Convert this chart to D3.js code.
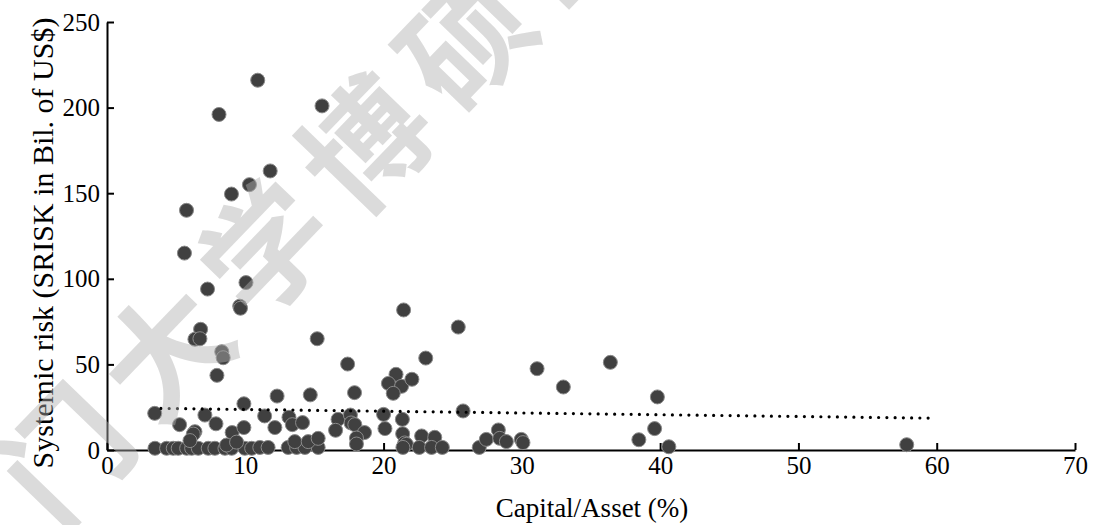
<!DOCTYPE html>
<html>
<head>
<meta charset="utf-8">
<script src="https://cdn.jsdelivr.net/npm/d3@7"></script>
<style>
  html, body { margin: 0; padding: 0; background: #ffffff; }
  svg { display: block; }
</style>
</head>
<body>
<svg id="chart" width="1094" height="525"></svg>
<script>
// Capital/Asset ratio (%) of each institution
const capitalRatio = [
  10.9, 8.1, 15.55, 11.8, 10.3, 9.0, 5.75, 5.6, 7.27, 10.05, 9.6, 9.65, 6.77, 6.36, 6.72, 15.2, 8.3, 8.4, 7.95,
  21.45, 25.4, 17.4, 23.05, 31.1, 36.4, 33.0, 39.8,
  20.9, 20.35, 21.3, 22.05, 20.7, 17.9, 14.7, 12.3,
  25.75, 9.9, 3.45,
  7.08, 5.25, 7.88, 6.36, 6.24, 9.05, 9.9, 11.4, 12.14, 13.16, 13.4, 14.14, 16.71, 16.53,
  17.6, 17.65, 17.92, 18.62, 18.04, 18.04, 20.0, 20.1, 21.36, 21.38, 21.53, 21.65, 21.4,
  22.75, 23.7, 22.58, 23.47, 24.25, 26.92, 27.43, 28.3, 28.4, 28.88, 29.96, 30.08,
  38.46, 39.6, 40.63, 57.83,
  3.47, 4.31, 4.79, 5.15, 5.76, 6.12, 6.6, 7.32, 7.8, 8.53, 9.01, 9.97, 10.46, 11.05, 11.65,
  13.1, 13.71, 14.31, 15.27, 13.58, 14.55, 15.27, 6.0, 8.65, 9.37
];
// SRISK (billions of US$) for the same institutions
const srisk = [
  216, 196, 201, 163, 155, 149.5, 140, 115, 94, 97.8, 84, 82.8, 70.5, 64.7, 65, 65, 57.4, 53.9, 43.6,
  81.8, 71.8, 50.2, 53.7, 47.5, 51.2, 36.8, 31.0,
  44.2, 38.9, 37.2, 41.3, 33.1, 33.5, 32.2, 31.5,
  22.8, 27.0, 21.4,
  20.4, 14.8, 15.3, 10.7, 9.3, 10.2, 13.1, 19.9, 13.1, 19.1, 14.8, 16.0, 17.9, 11.5,
  20.4, 15.8, 14.8, 10.2, 7.0, 3.5, 20.8, 12.5, 17.9, 9.5, 4.1, 3.3, 1.5,
  8.2, 7.4, 1.5, 1.5, 1.5, 1.5, 6.2, 11.7, 6.8, 4.9, 6.2, 4.3,
  6.0, 12.5, 1.9, 3.1,
  1.0, 1.0, 1.0, 1.0, 1.0, 1.0, 1.0, 1.0, 1.0, 1.0, 1.0, 1.0, 1.0, 1.5, 1.5,
  1.5, 1.5, 1.5, 1.5, 4.9, 4.9, 6.8, 5.5, 2.9, 4.6
];
// Linear trend line end points
const trendX = [3.9, 59.6];
const trendY = [24.3, 18.6];

const xTicks = [0, 10, 20, 30, 40, 50, 60, 70];
const yTicks = [0, 50, 100, 150, 200, 250];

const xTitle = "Capital/Asset (%)";
const yTitle = "Systemic risk (SRISK in Bil. of US$)";
const watermark = "厦门大学博硕士论文摘要库";

const W = 1094, H = 525;
const margin = { top: 22, right: 19, bottom: 75, left: 107 };
const serif = "Liberation Serif, Times New Roman, serif";

const svg = d3.select("#chart");

const x = d3.scaleLinear().domain([0, 70]).range([margin.left, W - margin.right]);
const y = d3.scaleLinear().domain([0, 250]).range([H - margin.bottom, margin.top]);

// axes (ticks point inward)
const xAxis = svg.append("g")
  .attr("transform", `translate(0,${y(0)})`)
  .call(d3.axisBottom(x).tickValues(xTicks).tickFormat(d3.format("d"))
    .tickSizeInner(-7).tickSizeOuter(0).tickPadding(6));
const yAxis = svg.append("g")
  .attr("transform", `translate(${x(0)},0)`)
  .call(d3.axisLeft(y).tickValues(yTicks).tickFormat(d3.format("d"))
    .tickSizeInner(-7).tickSizeOuter(0).tickPadding(7));

[xAxis, yAxis].forEach(g => {
  g.select(".domain").attr("stroke", "#000").attr("stroke-width", 2);
  g.selectAll(".tick line").attr("stroke", "#000").attr("stroke-width", 2);
  g.selectAll(".tick text")
    .attr("font-family", serif)
    .attr("font-size", 25).attr("fill", "#000");
});

// scatter points
const pts = capitalRatio.map((v, i) => ({ cx: v, sr: srisk[i] }));
svg.append("g")
  .selectAll("circle")
  .data(pts)
  .join("circle")
  .attr("cx", d => x(d.cx))
  .attr("cy", d => y(d.sr))
  .attr("r", 7)
  .attr("fill", "#404040")
  .attr("stroke", "#8a8a8a")
  .attr("stroke-width", 1);

// dotted linear trend
svg.append("path")
  .datum(trendX.map((v, i) => [v, trendY[i]]))
  .attr("d", d3.line().x(d => x(d[0])).y(d => y(d[1])))
  .attr("fill", "none")
  .attr("stroke", "#000")
  .attr("stroke-width", 3.2)
  .attr("stroke-linecap", "round")
  .attr("stroke-dasharray", "0 8.25");

// axis titles
svg.append("text")
  .attr("x", 592)
  .attr("y", 517)
  .attr("text-anchor", "middle")
  .attr("font-family", serif)
  .attr("font-size", 27)
  .attr("fill", "#000")
  .text(xTitle);

svg.append("text")
  .attr("transform", `translate(53,${243}) rotate(-90)`)
  .attr("text-anchor", "middle")
  .attr("font-family", serif)
  .attr("font-size", 30)
  .attr("fill", "#000")
  .text(yTitle);

// translucent diagonal watermark laid over the plot
svg.append("text")
  .attr("transform", "translate(-40,554) rotate(-46)")
  .attr("x", -62)
  .attr("dominant-baseline", "central")
  .attr("font-family", "Noto Sans CJK SC")
  .attr("font-weight", 700)
  .attr("font-size", 125)
  .attr("letter-spacing", 19)
  .attr("fill", "#b0b0b0")
  .attr("fill-opacity", 0.45)
  .text(watermark);
</script>
</body>
</html>
